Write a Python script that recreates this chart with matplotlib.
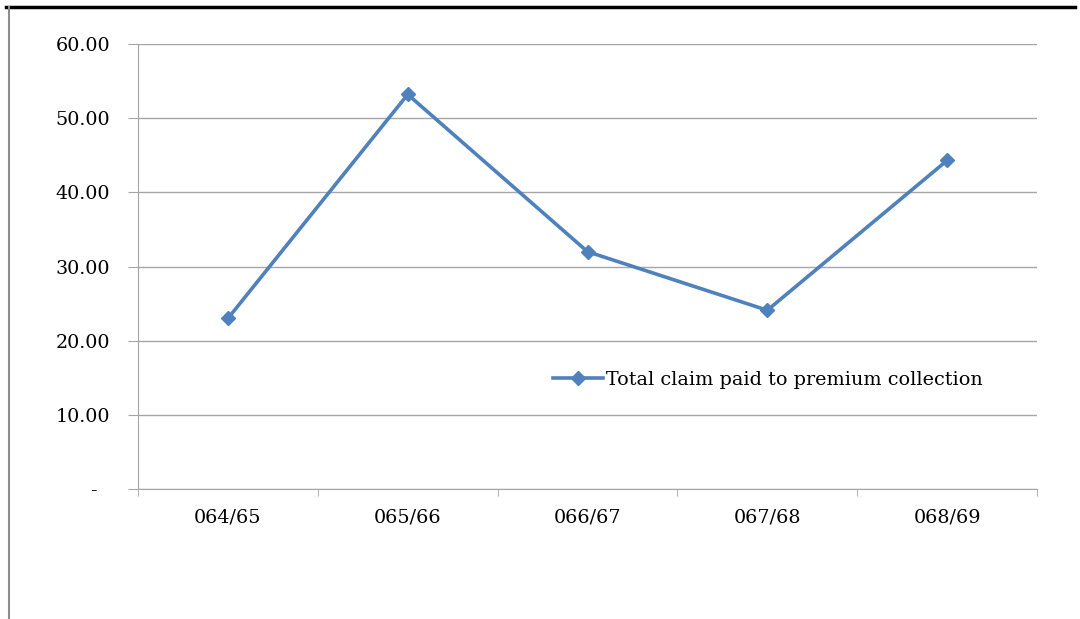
import numpy as np
import matplotlib.pyplot as plt
from matplotlib.lines import Line2D

years = ["064/65", "065/66", "066/67", "067/68", "068/69"]
ratio = [23.0, 53.2, 32.0, 24.1, 44.3]
yticks = [0, 10, 20, 30, 40, 50, 60]
ylabels = ["-  ", "10.00", "20.00", "30.00", "40.00", "50.00", "60.00"]

plt.rcParams['font.family'] = ['DejaVu Serif']
grey = "#a6a6a6"
fs = 13.8

fig = plt.figure(figsize=(10.8, 6.19), dpi=100)
ax = fig.add_axes([0.1278, 0.21, 0.8324, 0.7189])

x = np.arange(len(years))
ax.plot(x, ratio, color="#4f81bd", lw=2.6, marker="D", ms=7,
        label="Total claim paid to premium collection")

ax.set_xlim(-0.5, len(years) - 0.5)
ax.set_ylim(0, 60)
ax.set_yticks(yticks)
ax.set_yticklabels(ylabels)
ax.set_xticks(x)
ax.set_xticklabels(years)
ax.set_xticks(np.arange(-0.5, len(years)), minor=True)
ax.tick_params(axis='x', which='major', length=0, pad=14, labelsize=fs)
ax.tick_params(axis='x', which='minor', length=5, color=grey, direction='out')
ax.tick_params(axis='y', length=7, color=grey, pad=13, labelsize=fs)

ax.grid(axis='y', color=grey, lw=1)
ax.set_axisbelow(True)
for s in ['top', 'right']:
    ax.spines[s].set_visible(False)
for s in ['left', 'bottom']:
    ax.spines[s].set_color(grey)

ax.legend(loc='center left', bbox_to_anchor=(0.462, 0.245), frameon=False,
          borderpad=0, borderaxespad=0, handlelength=2.6, handletextpad=0.15,
          fontsize=fs)

# frame lines of the original picture
fig.add_artist(Line2D([0.006, 0.995], [0.989, 0.989], color="black", lw=2.5))
fig.add_artist(Line2D([0.0085, 0.0085], [0.0, 0.988], color="#8c8c8c", lw=1.5))

fig.savefig("out.png", dpi=100)
